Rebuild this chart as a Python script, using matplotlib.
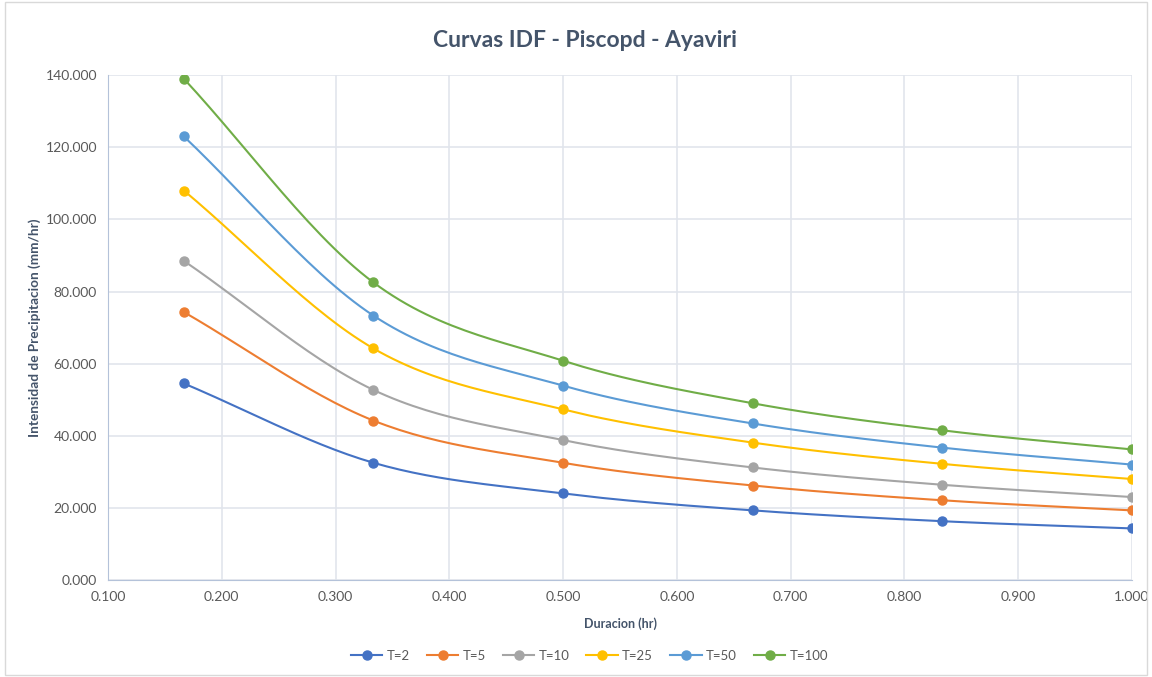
import numpy as np
import matplotlib
matplotlib.use('Agg')
import matplotlib.pyplot as plt
from matplotlib.patches import Rectangle

plt.rcParams['font.family'] = ['Lato', 'DejaVu Sans']

# data
duracion = [1/6, 2/6, 3/6, 4/6, 5/6, 1.0]
series = ['T=2', 'T=5', 'T=10', 'T=25', 'T=50', 'T=100']
t2 = [54.5, 32.5, 24.0, 19.3, 16.3, 14.3]
t5 = [74.3, 44.2, 32.5, 26.2, 22.1, 19.3]
t10 = [88.5, 52.7, 38.8, 31.2, 26.4, 23.0]
t25 = [108.0, 64.2, 47.3, 38.1, 32.2, 28.0]
t50 = [123.0, 73.3, 53.9, 43.4, 36.7, 32.0]
t100 = [139.0, 82.5, 60.8, 49.0, 41.5, 36.2]
values = [t2, t5, t10, t25, t50, t100]
colors = ['#4472C4', '#ED7D31', '#A5A5A5', '#FFC000', '#5B9BD5', '#70AD47']


def smooth(x, y, n=30):
    # Catmull-Rom style smoothing like Excel's smoothed line
    x = np.asarray(x); y = np.asarray(y)
    px = np.concatenate([[2*x[0]-x[1]], x, [2*x[-1]-x[-2]]])
    py = np.concatenate([[2*y[0]-y[1]], y, [2*y[-1]-y[-2]]])
    xs, ys = [], []
    for i in range(1, len(px)-2):
        t = np.linspace(0, 1, n)
        for p, out in ((px, xs), (py, ys)):
            p0, p1, p2, p3 = p[i-1], p[i], p[i+1], p[i+2]
            out.append(0.5*((2*p1) + (-p0+p2)*t + (2*p0-5*p1+4*p2-p3)*t**2
                            + (-p0+3*p1-3*p2+p3)*t**3))
    return np.concatenate(xs), np.concatenate(ys)


fig = plt.figure(figsize=(11.52, 6.77), dpi=100)
ax = fig.add_axes([0.09375, 0.1433, 0.8889, 0.7457])
fig.patches.append(Rectangle((0.004, 0.003), 0.992, 0.994, transform=fig.transFigure,
                             fill=False, edgecolor='#D9D9D9', lw=1))

for name, v, c in zip(series, values, colors):
    sx, sy = smooth(duracion, v)
    ax.plot(sx, sy, color=c, lw=1.5, zorder=3)
    ax.plot(duracion, v, 'o', color=c, ms=6.5, zorder=4)
    ax.plot([], [], '-o', color=c, lw=1.5, ms=6.5, label=name)

ax.set_xlim(0.1, 1.0)
ax.set_ylim(0, 140)
ax.set_xticks(np.arange(0.1, 1.001, 0.1))
ax.set_yticks(np.arange(0, 141, 20))
ax.xaxis.set_major_formatter(plt.FuncFormatter(lambda v, p: '%.3f' % v))
ax.yaxis.set_major_formatter(plt.FuncFormatter(lambda v, p: '%.3f' % v))
ax.tick_params(length=0, labelsize=10, labelcolor='#595959', pad=8)
ax.grid(color='#E1E5EC', lw=1.2)
ax.set_axisbelow(True)
for s in ['top', 'right']:
    ax.spines[s].set_visible(False)
for s in ['left', 'bottom']:
    ax.spines[s].set_color('#B4C2D9')

ax.set_xlabel('Duracion (hr)', fontsize=9, fontweight='bold', color='#44546A', labelpad=10)
ax.set_ylabel('Intensidad de Precipitacion (mm/hr)', fontsize=9.8, fontweight='bold',
              color='#44546A', labelpad=3)
fig.suptitle('Curvas IDF - Piscopd - Ayaviri', fontsize=16.5, fontweight='bold',
             color='#44546A', x=0.508, y=0.955)

ax.legend(loc='upper center', bbox_to_anchor=(0.47, -0.115), ncol=6, frameon=False,
          fontsize=9.5, labelcolor='#595959', handlelength=2.4, columnspacing=1.3,
          handletextpad=0.3)

fig.savefig('out.png', dpi=100)
